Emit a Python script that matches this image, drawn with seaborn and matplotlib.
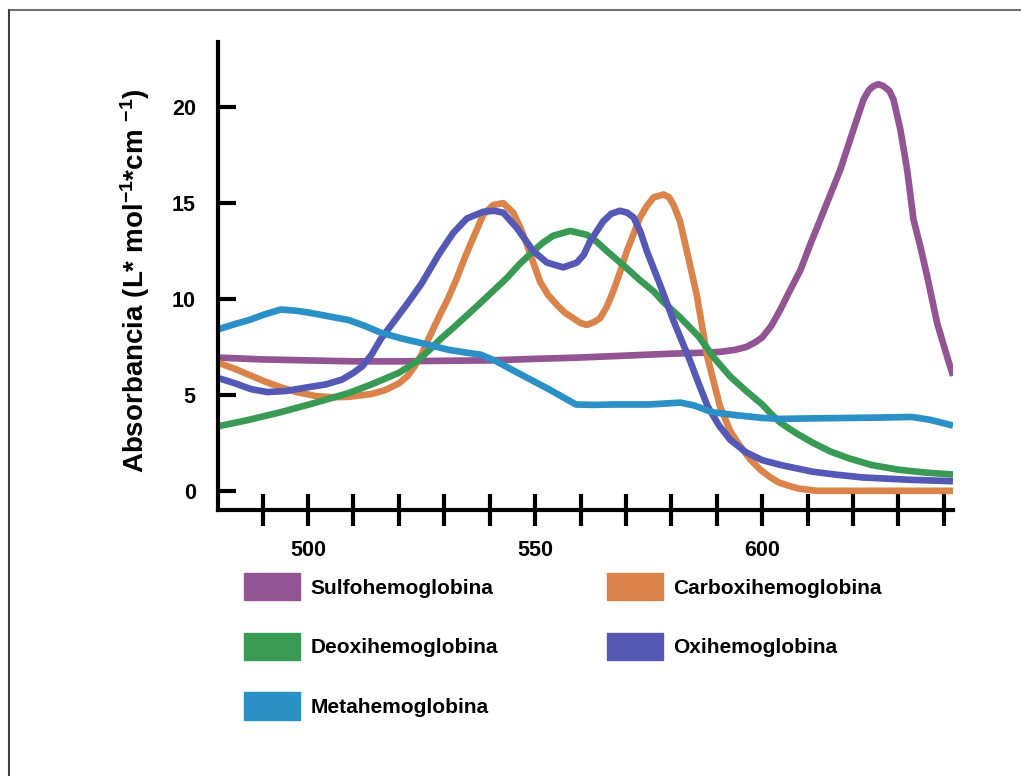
import numpy as np
import pandas as pd
import matplotlib
matplotlib.use("Agg")
import matplotlib.pyplot as plt
from matplotlib.patches import Patch
from matplotlib.lines import Line2D
import seaborn as sns

# ---------------- data ----------------
sulfo_x = [480, 490, 500, 510, 520, 530, 540, 550, 560, 570, 580, 587, 591, 594, 596.5, 598.5, 600, 602, 604, 606, 608.4, 610.5, 612.8, 615, 617.2, 620.1, 622.3, 623.5, 624.5, 625.6, 626.7, 628, 628.9, 630.4, 631.9, 633.3, 634.8, 636.3, 638.5, 640.7, 642]
sulfo_y = [6.95, 6.85, 6.8, 6.75, 6.75, 6.78, 6.8, 6.88, 6.95, 7.05, 7.15, 7.2, 7.25, 7.35, 7.5, 7.75, 8.0, 8.6, 9.45, 10.4, 11.5, 12.8, 14.15, 15.45, 16.75, 18.85, 20.4, 20.9, 21.1, 21.2, 21.1, 20.85, 20.4, 18.85, 16.75, 14.15, 12.75, 11.2, 8.75, 7.0, 6.0]

carboxi_x = [480, 484, 487, 490.5, 494, 497.5, 501.5, 505, 509, 514, 517, 520, 522, 523.5, 525, 526.5, 529.1, 530.8, 532.8, 534.6, 536.4, 538.6, 540.8, 543, 545.2, 546.8, 548.2, 549.6, 551.1, 552.9, 554.8, 556.5, 558.4, 560, 561.4, 563, 564.3, 565.8, 567.2, 568.7, 570.2, 571.7, 573.1, 574.6, 576.1, 578.3, 579.5, 580.5, 581.9, 583.4, 585.6, 587.9, 590.7, 593, 595.2, 597.5, 599.6, 601.5, 603.5, 606, 608, 612, 642]
carboxi_y = [6.7, 6.35, 6.05, 5.7, 5.4, 5.15, 4.95, 4.88, 4.9, 5.05, 5.25, 5.6, 6.0, 6.5, 7.1, 7.9, 9.2, 10.0, 11.1, 12.2, 13.2, 14.4, 14.9, 15.0, 14.5, 13.7, 12.85, 11.9, 10.9, 10.2, 9.7, 9.3, 9.0, 8.75, 8.65, 8.8, 9.0, 9.6, 10.4, 11.4, 12.5, 13.4, 14.25, 14.85, 15.3, 15.45, 15.3, 14.9, 14.05, 12.5, 10.2, 7.0, 4.4, 3.1, 2.3, 1.6, 1.1, 0.75, 0.45, 0.25, 0.12, 0.0, 0.0]

deoxi_x = [480, 487, 494, 501, 509, 514, 520, 524, 527, 529.1, 532, 536.4, 540, 543.8, 546.5, 549.6, 551.8, 554, 557.7, 561.4, 563.5, 565.8, 570.2, 573, 576.1, 578.2, 581.9, 586, 589.5, 593, 596.5, 600, 602, 604, 607.5, 611.2, 615, 619, 624, 630, 636, 642]
deoxi_y = [3.35, 3.7, 4.1, 4.55, 5.1, 5.55, 6.15, 6.75, 7.4, 7.9, 8.5, 9.45, 10.25, 11.1, 11.8, 12.5, 12.95, 13.3, 13.55, 13.35, 13.0, 12.5, 11.6, 11.0, 10.4, 9.85, 9.05, 8.05, 6.9, 5.95, 5.2, 4.5, 4.0, 3.55, 3.0, 2.5, 2.05, 1.7, 1.35, 1.1, 0.95, 0.85]

oxi_x = [480, 484, 487.5, 491, 495, 500, 504, 507.5, 510, 512, 514, 516, 519, 522, 525, 527, 529, 532, 535, 538.6, 541, 543, 546, 549.6, 552.6, 556.2, 559.2, 560.7, 562.1, 565, 566.8, 568.7, 570.3, 571.7, 573.2, 574.6, 577.5, 580.5, 582.5, 584, 586, 588, 590.5, 593, 596.5, 600, 604, 611, 616, 622, 632, 642]
oxi_y = [5.9, 5.6, 5.3, 5.15, 5.2, 5.4, 5.55, 5.8, 6.15, 6.5, 7.1, 7.9, 8.85, 9.8, 10.8, 11.6, 12.4, 13.45, 14.2, 14.55, 14.6, 14.5, 13.7, 12.5, 11.9, 11.65, 11.9, 12.3, 13.0, 14.05, 14.45, 14.6, 14.5, 14.25, 13.5, 12.5, 10.75, 8.85, 7.7, 6.85, 5.6, 4.4, 3.4, 2.65, 2.0, 1.6, 1.35, 1.0, 0.85, 0.7, 0.58, 0.5]

meta_x = [480, 484, 487, 490.5, 494, 497, 500, 504.5, 509, 512.5, 516, 520.5, 525, 531, 535, 538, 541.5, 545, 549, 553, 556, 559, 563, 567, 575, 582, 585, 589, 594, 600, 604, 612, 619, 626, 633, 637, 642]
meta_y = [8.4, 8.7, 8.9, 9.2, 9.45, 9.4, 9.3, 9.1, 8.9, 8.6, 8.25, 7.95, 7.7, 7.35, 7.2, 7.1, 6.75, 6.3, 5.8, 5.3, 4.9, 4.5, 4.48, 4.5, 4.5, 4.6, 4.45, 4.1, 3.95, 3.8, 3.75, 3.78, 3.8, 3.82, 3.85, 3.7, 3.4]

series_names = ["Sulfohemoglobina", "Carboxihemoglobina", "Deoxihemoglobina", "Oxihemoglobina", "Metahemoglobina"]
series_colors = ["#935494", "#DA834B", "#399A56", "#5558B4", "#2A90C5"]
legend_order = ["Sulfohemoglobina", "Deoxihemoglobina", "Metahemoglobina", "Carboxihemoglobina", "Oxihemoglobina"]

x_ticks = [490, 500, 510, 520, 530, 540, 550, 560, 570, 580, 590, 600, 610, 620, 630, 640]
x_ticklabels = ["", "500", "", "", "", "", "550", "", "", "", "", "600", "", "", "", ""]
y_ticks = [0, 5, 10, 15, 20]

# ---------------- build long table ----------------
xs = [sulfo_x, carboxi_x, deoxi_x, oxi_x, meta_x]
ys = [sulfo_y, carboxi_y, deoxi_y, oxi_y, meta_y]
frames = [pd.DataFrame({"nm": x, "abs": y, "serie": n}) for x, y, n in zip(xs, ys, series_names)]
df = pd.concat(frames, ignore_index=True)

# ---------------- style ----------------
sns.set_style("white")
plt.rcParams["font.family"] = ["Liberation Sans", "DejaVu Sans"]
plt.rcParams["font.weight"] = "bold"
plt.rcParams["text.color"] = "black"
plt.rcParams["mathtext.fontset"] = "custom"
plt.rcParams["mathtext.rm"] = "Liberation Sans:bold"
plt.rcParams["mathtext.bf"] = "Liberation Sans:bold"
plt.rcParams["mathtext.it"] = "Liberation Sans:bold"
plt.rcParams["mathtext.default"] = "bf"

fig = plt.figure(figsize=(10.21, 7.76), dpi=100)
ax = fig.add_axes([218 / 1021, 1 - 510 / 776, (953 - 218) / 1021, (510 - 42) / 776])

palette = dict(zip(series_names, series_colors))
sns.lineplot(data=df, x="nm", y="abs", hue="serie", palette=palette, estimator=None,
             sort=False, linewidth=4.8, legend=False, ax=ax)
for ln in ax.get_lines():
    ln.set_solid_capstyle("butt")
    ln.set_solid_joinstyle("round")

ax.set_xlim(480.2, 642)
ax.set_ylim(-1.0, 23.4)

for s in ["top", "right"]:
    ax.spines[s].set_visible(False)
for s in ["left", "bottom"]:
    ax.spines[s].set_linewidth(3)
    ax.spines[s].set_color("black")

ax.set_xticks(x_ticks)
ax.set_xticklabels(x_ticklabels)
ax.set_yticks(y_ticks)
ax.tick_params(axis="x", bottom=True, direction="inout", length=23, width=3, pad=10,
               labelsize=15.5, colors="black")
ax.tick_params(axis="y", left=True, direction="in", length=13, width=3, pad=16,
               labelsize=15.5, colors="black")
for lab in ax.get_xticklabels() + ax.get_yticklabels():
    lab.set_fontweight("bold")

ax.set_xlabel("")
ax.set_ylabel("Absorbancia (L* mol$^{-1}$*cm $^{-1}$)", fontsize=20, fontweight="bold", color="black")
ax.yaxis.set_label_coords(-0.0898, 0.491)

# ---------------- legend ----------------
handles = [Patch(facecolor=palette[n], edgecolor=palette[n], label=n) for n in legend_order]
leg = fig.legend(handles=handles, loc="upper left", bbox_to_anchor=(244 / 1021, 1 - 573 / 776),
                 ncol=2, frameon=False, borderpad=0, borderaxespad=0,
                 handlelength=2.7, handleheight=1.65, labelspacing=1.55, handletextpad=0.5,
                 columnspacing=5.2, prop={"weight": "bold", "size": 15})
for t in leg.get_texts():
    t.set_color("black")

# ---------------- thin gray frame (top + left) ----------------
fig.add_artist(Line2D([9 / 1021, 1.0], [1 - 10 / 776, 1 - 10 / 776], color="#707070", linewidth=1.5, transform=fig.transFigure))
fig.add_artist(Line2D([9 / 1021, 9 / 1021], [0.0, 1 - 10 / 776], color="#404040", linewidth=1.5, transform=fig.transFigure))

fig.savefig("out.png", dpi=100, facecolor="white")
